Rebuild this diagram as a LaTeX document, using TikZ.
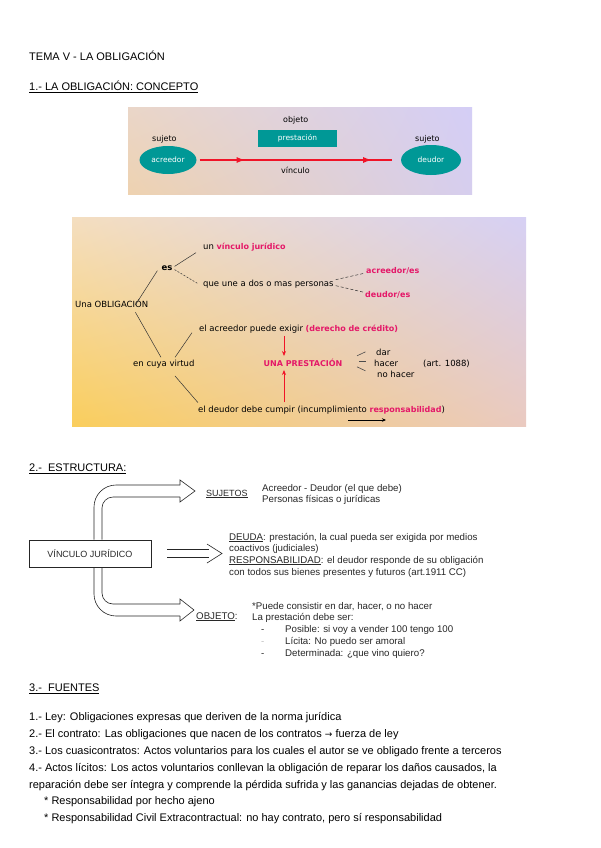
\documentclass[tikz,border=0pt]{standalone}
\usepackage{fontspec}
\setmainfont{Liberation Sans}
\newfontfamily\dv{DejaVu Sans}
\usetikzlibrary{shapes.geometric,calc,arrows.meta,decorations.markings,shadings}
\definecolor{tealx}{RGB}{0,152,150}
\definecolor{magx}{RGB}{228,24,104}
\definecolor{redx}{RGB}{240,20,40}
\definecolor{txtg}{RGB}{40,40,40}
\definecolor{aul}{RGB}{234,214,200}
\definecolor{all}{RGB}{238,210,176}
\definecolor{aur}{RGB}{212,206,246}
\definecolor{alr}{RGB}{214,206,238}
\definecolor{bul}{RGB}{244,222,192}
\definecolor{bll}{RGB}{250,206,92}
\definecolor{bur}{RGB}{214,208,244}
\definecolor{blr}{RGB}{234,202,192}
\newcommand\bxf{\dv\fontsize{8.5}{10}\selectfont}
\newcommand\mg[1]{{\fontsize{8}{9.5}\selectfont\bfseries\color{magx}#1}}
\tikzset{
  txt/.style={anchor=base west, inner sep=0pt, font=\fontsize{11}{13}\selectfont},
  stx/.style={anchor=base west, inner sep=0pt, text=txtg, font=\fontsize{9.7}{11}\selectfont},
  bxt/.style={anchor=base west, inner sep=0pt, font=\bxf},
  bxc/.style={inner sep=0pt, font=\bxf},
  tube/.style={draw=black!85, line width=0.6pt},
  mapline/.style={draw=black!80, line width=0.5pt},
  tealell/.style={ellipse, fill=tealx, text=white, inner sep=0pt, font=\dv\fontsize{7.5}{9}\selectfont},
}
\begin{document}
\begin{tikzpicture}[x=1pt,y=-1pt]
\useasboundingbox[fill=white] (0,0) rectangle (600,848);

% ---------- headings
\node[txt] (tema) at (29,61) {TEMA V - LA OBLIGACIÓN};
\node[txt] (h1) at (29,91) {\underline{1.- LA OBLIGACIÓN: CONCEPTO}};

% ---------- box 1
\shade[upper left=aul, lower left=all, upper right=aur, lower right=alr]
  (128,108) rectangle (472,194);
\node[bxt, font=\dv\fontsize{8}{9.5}\selectfont] (objeto) at (283,123) {objeto};
\node[fill=tealx, text=white, minimum width=79pt, minimum height=17pt, inner sep=0pt,
      font=\dv\fontsize{7.5}{9}\selectfont] (prest) at (297.5,138.5) {prestación};
\node[bxt, font=\dv\fontsize{8}{9.5}\selectfont] (suj1) at (152,141) {sujeto};
\node[bxt, font=\dv\fontsize{8}{9.5}\selectfont] (suj2) at (415,141) {sujeto};
\node[tealell, minimum width=57pt, minimum height=28pt] (acr) at (168,160) {acreedor};
\node[tealell, minimum width=60pt, minimum height=30pt] (deu) at (431,160) {deudor};
\draw[redx, line width=2.2pt, shorten <=3pt, shorten >=9pt,
  postaction={decorate, decoration={markings,
     mark=at position 0.24 with {\arrow{Latex[length=9pt,width=6pt]}},
     mark=at position 0.86 with {\arrow{Latex[length=9pt,width=6pt]}}}}]
  (acr) -- (deu);
\node[bxt, font=\dv\fontsize{8}{9.5}\selectfont] (vinc1) at (281,173) {vínculo};

% ---------- box 2
\shade[upper left=bul, lower left=bll, upper right=bur, lower right=blr]
  (72,217) rectangle (526,426);
\node[bxt] (vj) at (203,249) {un \mg{vínculo jurídico}};
\node[bxc, font=\bxf\bfseries] (es) at (167,268) {es};
\node[bxt] (une) at (203,286) {que une a dos o mas personas};
\node[bxt, text=magx] (acres) at (366,273) {\mg{acreedor/es}};
\node[bxt, text=magx] (deus) at (365,297) {\mg{deudor/es}};
\node[bxt] (obl) at (75,307) {Una OBLIGACIÓN};
\node[bxt] (exig) at (199,331) {el acreedor puede exigir \mg{(derecho de crédito)}};
\node[bxt] (cuya) at (133,366) {en cuya virtud};
\node[bxc, text=magx, font=\dv\fontsize{8}{9.5}\selectfont\bfseries] (prst) at (303,363) {UNA PRESTACIÓN};
\node[bxt] (dar) at (376,355) {dar};
\node[bxt] (hacer) at (374,366) {hacer};
\node[bxt] (nohacer) at (377,377) {no hacer};
\node[bxt] (art) at (423,366) {(art. 1088)};
\node[bxt] (cump) at (198,412) {el deudor debe cumpir (incumplimiento \mg{responsabilidad})};

\draw[mapline] ($(obl.north east)+(-13,6)$) -- ($(es.south west)+(-4,0)$);
\draw[mapline] ($(es.north east)+(2,1)$) -- ($(vj.west)+(-7,6)$);
\draw[mapline, dashed, dash pattern=on 2pt off 1.5pt] ($(es.south east)+(2,-1)$) -- ($(une.west)+(-5,0)$);
\draw[mapline, dashed, dash pattern=on 3pt off 2pt] ($(une.east)+(2,-4)$) -- ($(acres.west)+(-2,3)$);
\draw[mapline, dashed, dash pattern=on 3pt off 2pt] ($(une.east)+(2,2)$) -- ($(deus.west)+(-1,-2)$);
\draw[mapline] ($(obl.south east)+(-13,5)$) -- ($(cuya.north west)+(28,-2)$);
\draw[mapline] ($(cuya.north west)+(42,-2)$) -- ($(exig.west)+(-7,4)$);
\draw[mapline] ($(cuya.south west)+(42,8)$) -- ($(cump.west)+(0,-7)$);

\coordinate (ax) at (284,0);
\draw[redx, line width=0.9pt, -{Stealth[length=5pt,width=4pt]}, shorten <=3pt, shorten >=3pt]
  (exig.south -| ax) -- (prst.north -| ax);
\draw[redx, line width=0.9pt, -{Stealth[length=5pt,width=4pt]}, shorten <=3pt, shorten >=3pt]
  (cump.north -| ax) -- (prst.south -| ax);

\draw[black!70, line width=0.6pt] ($(hacer.west)+(-8.5,-11)$) -- ($(hacer.west)+(-17,-7)$);
\draw[black!70, line width=0.6pt] ($(hacer.west)+(-15,-1.5)$) -- ($(hacer.west)+(-8.5,-1.5)$);
\draw[black!70, line width=0.6pt] ($(hacer.west)+(-17,4)$) -- ($(hacer.west)+(-8.5,8)$);

\coordinate (bs) at (348,420);
\coordinate (be) at (386,420);
\draw[black, line width=0.7pt, -{Stealth[length=4pt,width=3.5pt]}] (bs) -- (be);

% ---------- section 2
\node[txt] (h2) at (29,471.5) {\underline{2.-\ \ ESTRUCTURA:}};
\node[draw=black!85, line width=0.6pt, minimum width=122pt, minimum height=27pt, inner sep=0pt,
      text=txtg, font=\fontsize{9}{10}\selectfont] (vinc) at (90,553.5) {VÍNCULO JURÍDICO};

\coordinate (to) at (94,0);
\coordinate (ti) at (102,0);
\draw[tube, rounded corners=22pt] (vinc.north -| to) -- (94,485) -- (180,485);
\draw[tube, rounded corners=11pt] (vinc.north -| ti) -- (102,497) -- (180,497);
\draw[tube] (180,485) -- (180,480) -- (195,491) -- (180,502) -- (180,497);

\draw[tube, rounded corners=11pt] (vinc.south -| ti) -- (102,604) -- (180,604);
\draw[tube, rounded corners=22pt] (vinc.south -| to) -- (94,616) -- (180,616);
\draw[tube] (180,604) -- (180,599) -- (194,610) -- (180,621) -- (180,616);

\draw[tube] (167,549.5) -- (209,549.5);
\draw[tube] (167,557.5) -- (209,557.5);
\draw[tube] (207,544) -- (222,553.5) -- (207,563);

\node[stx, font=\fontsize{9}{10}\selectfont] (suj) at (206,496) {\underline{SUJETOS}};
\node[stx] (s1) at (262,491) {Acreedor - Deudor (el que debe)};
\node[stx] (s2) at (262,502) {Personas físicas o jurídicas};
\node[stx] (d1) at (229,540) {\underline{DEUDA}: prestación, la cual pueda ser exigida por medios};
\node[stx] (d2) at (229,551) {coactivos (judiciales)};
\node[stx] (d3) at (229,563) {\underline{RESPONSABILIDAD}: el deudor responde de su obligación};
\node[stx] (d4) at (229,575) {con todos sus bienes presentes y futuros (art.1911 CC)};
\node[stx] (obj) at (196,619) {\underline{OBJETO}:};
\node[stx] (o1) at (252,609) {*Puede consistir en dar, hacer, o no hacer};
\node[stx] (o2) at (252,620) {La prestación debe ser:};
\node[stx] (o3d) at (261,632) {-};
\node[stx] (o3) at (285,632) {Posible: si voy a vender 100 tengo 100};
\node[stx, text=black!25] (o4d) at (261,644) {-};
\node[stx] (o4) at (285,644) {Lícita: No puedo ser amoral};
\node[stx] (o5d) at (261,656) {-};
\node[stx] (o5) at (285,656) {Determinada: ¿que vino quiero?};

% ---------- section 3
\node[txt] (h3) at (29,691.5) {\underline{3.-\ \ FUENTES}};
\node[txt] (f1) at (29,720.5) {1.- Ley: Obligaciones expresas que deriven de la norma jurídica};
\node[txt] (f2) at (29,737.5) {2.- El contrato: Las obligaciones que nacen de los contratos {\dv\fontsize{9}{10}\selectfont →} fuerza de ley};
\node[txt] (f3) at (29,754.5) {3.- Los cuasicontratos: Actos voluntarios para los cuales el autor se ve obligado frente a terceros};
\node[txt] (f4) at (29,771.5) {4.- Actos lícitos: Los actos voluntarios conllevan la obligación de reparar los daños causados, la};
\node[txt] (f5) at (29,788.5) {reparación debe ser íntegra y comprende la pérdida sufrida y las ganancias dejadas de obtener.};
\node[txt] (f6) at (44,804.5) {* Responsabilidad por hecho ajeno};
\node[txt] (f7) at (44,821.5) {* Responsabilidad Civil Extracontractual: no hay contrato, pero sí responsabilidad};
\end{tikzpicture}
\end{document}
